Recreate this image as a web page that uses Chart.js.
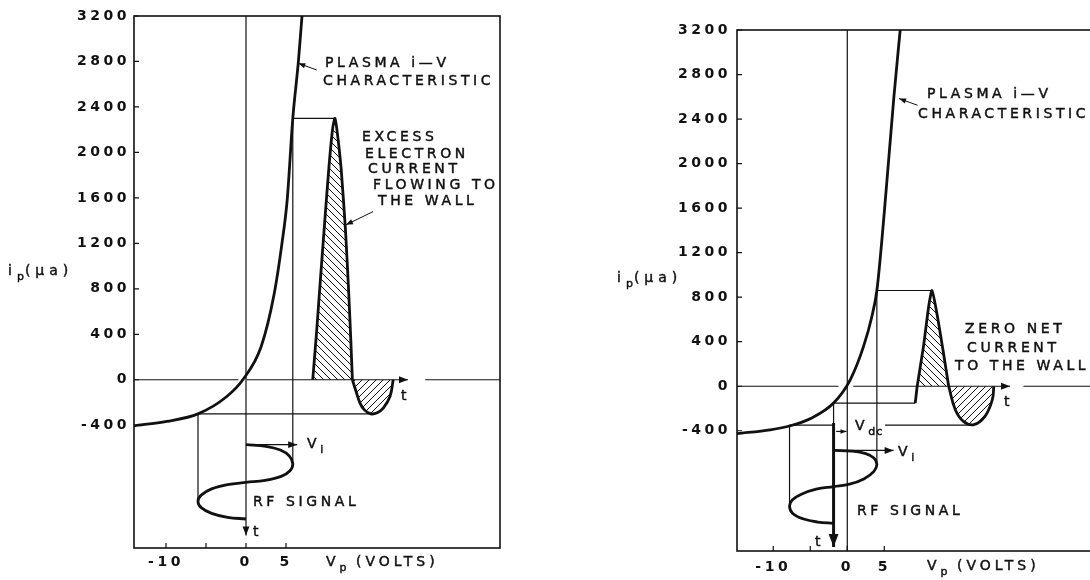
<!DOCTYPE html>
<html><head><meta charset="utf-8">
<script src="https://cdn.jsdelivr.net/npm/chart.js@4.4.1/dist/chart.umd.min.js"></script>
<style>
html,body{margin:0;padding:0;background:#fff;overflow:hidden;width:1090px;height:580px;}
#wrap{position:relative;width:1090px;height:580px;overflow:hidden;background:#fff;}
canvas{position:absolute;top:0;}
.t{position:absolute;font-family:'DejaVu Sans',sans-serif;font-size:14px;line-height:14px;letter-spacing:3.6px;color:#111;white-space:nowrap;-webkit-text-stroke:0.45px #111;}
.t sub{font-size:11px;vertical-align:-5px;line-height:0;letter-spacing:1px;}
.w{letter-spacing:5px;}
</style></head><body><div id="wrap">
<canvas id="c1" width="520" height="580" style="left:0"></canvas>
<canvas id="c2" width="560" height="580" style="left:560px"></canvas>

<div class="t w" style="left:8px;top:263px">i<sub>p</sub>(μa)</div>
<div class="t" style="left:325px;top:55px">PLASMA i—V</div>
<div class="t" style="left:323px;top:73px">CHARACTERISTIC</div>
<div class="t" style="left:362px;top:129px">EXCESS</div>
<div class="t" style="left:365px;top:146px">ELECTRON</div>
<div class="t" style="left:368px;top:161px">CURRENT</div>
<div class="t" style="left:373px;top:177px">FLOWING TO</div>
<div class="t" style="left:378px;top:193px">THE WALL</div>
<div class="t" style="left:307px;top:436px">V<sub>i</sub></div>
<div class="t" style="left:253px;top:494px">RF SIGNAL</div>
<div class="t" style="left:401px;top:388px">t</div>
<div class="t" style="left:253px;top:524px">t</div>
<div class="t" style="left:326px;top:554px;letter-spacing:4px">V<sub>p</sub> (VOLTS)</div>

<div class="t w" style="left:617px;top:270px">i<sub>p</sub>(μa)</div>
<div class="t" style="left:927px;top:86px">PLASMA i—V</div>
<div class="t" style="left:918px;top:106px">CHARACTERISTIC</div>
<div class="t" style="left:965px;top:321px">ZERO NET</div>
<div class="t" style="left:967px;top:340px">CURRENT</div>
<div class="t" style="left:955px;top:358px">TO THE WALL</div>
<div class="t" style="left:855px;top:418px">V<sub>dc</sub></div>
<div class="t" style="left:898px;top:444px">V<sub>i</sub></div>
<div class="t" style="left:857px;top:503px">RF SIGNAL</div>
<div class="t" style="left:1004px;top:394px">t</div>
<div class="t" style="left:815px;top:534px">t</div>
<div class="t" style="left:927px;top:558px;letter-spacing:4px">V<sub>p</sub> (VOLTS)</div>
</div>
<script>
// ---------- axes ----------
const yTickValues = [3200, 2800, 2400, 2000, 1600, 1200, 800, 400, 0, -400];
const yTickLabels = ['3200', '2800', '2400', '2000', '1600', '1200', '800', '400', '0', '-400'];
const xTickValues = [-10, -5, 0, 5];
const xTickLabels = ['-10', '', '0', '5'];

// ---------- left panel data ----------
const L_ivV = [-14, -9.9, -6, -2.4, -0.4, 1.9, 3.5, 4.5, 5.15, 5.85, 6.55, 7.0];
const L_ivI = [-405, -366, -300, -147, 0, 293, 747, 1202, 1583, 2300, 2800, 3200];
const L_rfV = [0, 2.5, 4.3, 5.4, 5.85, 5.5, 4.4, 2.4, 0, -2.3, -4.3, -5.6, -6.0, -5.6, -4.3, -2.3, 0];
const L_rfI = [-571, -585, -618, -670, -740, -800, -850, -885, -903, -922, -960, -1015, -1070, -1125, -1175, -1210, -1225];
const L_posV = [8.34, 8.8, 9.3, 9.85, 10.4, 10.85, 11.12, 11.4, 11.9, 12.45, 12.85, 13.1, 13.3];
const L_posI = [0, 400, 880, 1400, 1900, 2220, 2300, 2180, 1850, 1300, 750, 350, 0];
const L_negV = [13.3, 13.7, 14.25, 14.8, 15.6, 16.4, 17.16, 18.0, 18.4];
const L_negI = [0, -90, -205, -265, -300, -290, -249, -147, 0];

// ---------- right panel data ----------
const R_ivV = [-14.9, -10.4, -7.7, -4.8, -1.85, 0.4, 2.2, 3.3, 4.0, 5.0, 6.3, 7.15];
const R_ivI = [-425, -391, -355, -285, -151, 58, 358, 620, 860, 1560, 2600, 3200];
const R_rfV = [-1.85, 0.6, 2.5, 3.6, 4.0, 3.6, 2.3, 0.3, -1.85, -4.2, -6.2, -7.4, -7.8, -7.4, -6.0, -4.0, -1.85];
const R_rfI = [-577, -583, -605, -645, -700, -765, -830, -880, -902, -925, -970, -1020, -1075, -1140, -1190, -1220, -1231];
const R_posV = [9.19, 9.45, 10.3, 11.0, 11.45, 12.1, 13.0, 13.7];
const R_posI = [-151, 0, 358, 717, 860, 658, 298, 0];
const R_negV = [13.7, 14.6, 15.7, 17.1, 18.6, 19.6, 19.8];
const R_negI = [0, -211, -316, -345, -271, -121, 0];

const INK = '#111';

function hatch(dir) {
  const s = 7, c = document.createElement('canvas');
  c.width = s; c.height = s;
  const g = c.getContext('2d');
  g.strokeStyle = INK; g.lineWidth = 1; g.beginPath();
  for (let k = -1; k <= 1; k++) {
    if (dir > 0) { g.moveTo(k * s - 1, -1); g.lineTo(k * s + s + 1, s + 1); }
    else { g.moveTo(k * s - 1, s + 1); g.lineTo(k * s + s + 1, -1); }
  }
  g.stroke();
  return c.getContext('2d').createPattern(c, 'repeat');
}
const patBack = hatch(1);
const patFwd = hatch(-1);

function ln(xs, ys, w, extra) {
  return Object.assign({
    data: xs.map((x, i) => ({ x: x, y: ys[i] })),
    borderColor: INK, borderWidth: w, pointRadius: 0, pointHoverRadius: 0,
    fill: false, tension: 0
  }, extra || {});
}

const framePlugin = {
  id: 'frame',
  beforeDraw(chart) { chart.ctx.letterSpacing = '3.5px'; },
  afterDatasetsDraw(chart) {
    const ctx = chart.ctx, a = chart.chartArea, x = chart.scales.x, y = chart.scales.y;
    ctx.save();
    ctx.letterSpacing = '0px';
    ctx.strokeStyle = INK; ctx.lineWidth = 1.6;
    ctx.strokeRect(a.left, a.top, a.right - a.left, a.bottom - a.top);
    ctx.lineWidth = 1.2; ctx.beginPath();
    yTickValues.forEach(v => { const py = y.getPixelForValue(v); ctx.moveTo(a.left, py); ctx.lineTo(a.left + 5, py); });
    xTickValues.forEach(v => { const px = x.getPixelForValue(v); ctx.moveTo(px, a.bottom); ctx.lineTo(px, a.bottom - 5); });
    ctx.stroke();
    ctx.fillStyle = INK;
    chart.data.datasets.forEach((ds, i) => {
      if (!ds.arrow) return;
      const d = chart.getDatasetMeta(i).data;
      const p = d[d.length - 1], q = d[d.length - 2];
      const ang = Math.atan2(p.y - q.y, p.x - q.x);
      const L = ds.arrow, W = L * 0.38;
      const c = Math.cos(ang), s = Math.sin(ang);
      ctx.beginPath();
      ctx.moveTo(p.x, p.y);
      ctx.lineTo(p.x - L * c + W * s, p.y - L * s - W * c);
      ctx.lineTo(p.x - L * c - W * s, p.y - L * s + W * c);
      ctx.closePath(); ctx.fill();
    });
    ctx.restore();
  }
};

function makeChart(id, xmin, xmax, yWidth, padTop, padRight, xHeight, yPad, xPad, datasets) {
  const tickFont = { family: 'DejaVu Sans', size: 14, weight: 'bold' };
  return new Chart(document.getElementById(id), {
    type: 'line',
    data: { datasets: datasets },
    options: {
      responsive: false, animation: false, devicePixelRatio: 1,
      events: [],
      layout: { padding: { left: 0, top: padTop, right: padRight, bottom: 0 } },
      plugins: { legend: { display: false }, tooltip: { enabled: false } },
      scales: {
        x: {
          type: 'linear', min: xmin, max: xmax,
          afterBuildTicks: s => { s.ticks = xTickValues.map(v => ({ value: v })); },
          afterFit: s => { s.height = xHeight; },
          grid: { display: false, drawTicks: false }, border: { display: false },
          ticks: { padding: xPad, autoSkip: false, maxRotation: 0, color: INK, font: tickFont,
                   callback: (v, i) => xTickLabels[i] }
        },
        y: {
          type: 'linear', min: -1480, max: 3200,
          afterBuildTicks: s => { s.ticks = yTickValues.map(v => ({ value: v })); },
          afterFit: s => { s.width = yWidth; },
          grid: { display: false, drawTicks: false }, border: { display: false },
          ticks: { padding: yPad, autoSkip: false, color: INK, font: tickFont,
                   callback: (v, i) => yTickLabels[i] }
        }
      }
    },
    plugins: [framePlugin]
  });
}

const thin = 1.2, thick = 2.8;

// ---------- left chart ----------
makeChart('c1', -14, 31.75, 134, 16, 20, 32, 4, 6, [
  ln([-14, -0.95], [0, 0], thin),
  ln([0.1, 20.25], [0, 0], thin, { arrow: 9 }),
  ln([22.4, 31.75], [0, 0], thin),
  ln([0, 0], [3200, -1370], thin, { arrow: 9 }),
  ln([5.85, 11.12], [2300, 2300], thin),
  ln([5.85, 5.85], [2300, -740], thin),
  ln([-6, 15.6], [-300, -300], thin),
  ln([-6, -6], [-300, -1070], thin),
  ln([0, 6.4], [-571, -571], thin, { arrow: 9 }),
  ln(L_posV, L_posI, thick, { tension: 0.2, fill: 'origin', backgroundColor: patBack }),
  ln(L_negV, L_negI, thick, { tension: 0.4, fill: 'origin', backgroundColor: patFwd }),
  ln(L_ivV, L_ivI, thick, { cubicInterpolationMode: 'monotone' }),
  ln(L_rfV, L_rfI, thick, { tension: 0.4 }),
  ln([8.84, 6.54], [2725, 2784], 1, { arrow: 7 }),
  ln([15.9, 12.5], [1480, 1363], 1, { arrow: 7 })
]);

// ---------- right chart ----------
makeChart('c2', -14.9, 34.15, 177, 30, 20, 29, 6, 8, [
  ln([-14.9, -1.2], [0, 0], thin),
  ln([0.8, 22.0], [0, 0], thin, { arrow: 9 }),
  ln([23.8, 34.15], [0, 0], thin),
  ln([0, 0], [3200, -1480], thin),
  ln([4.0, 11.45], [860, 860], thin),
  ln([4.0, 4.0], [860, -700], thin),
  ln([-1.85, 9.19], [-151, -151], thin),
  ln([-7.8, -1.85], [-350, -350], thin),
  ln([5.1, 17.1], [-350, -350], thin),
  ln([-7.8, -7.8], [-350, -1075], thin),
  ln([-1.85, -1.85], [-151, -330], thin),
  ln([-1.85, -1.85], [-330, -1445], 3, { arrow: 13 }),
  ln([-1.85, 6.26], [-577, -577], thin, { arrow: 9 }),
  ln([-1.5, -0.1], [-406, -406], thin, { arrow: 6 }),
  ln(R_posV, R_posI, thick, { tension: 0.2, fill: { target: 'origin', above: patBack, below: 'rgba(0,0,0,0)' } }),
  ln(R_negV, R_negI, thick, { tension: 0.4, fill: 'origin', backgroundColor: patFwd }),
  ln(R_ivV, R_ivI, thick, { cubicInterpolationMode: 'monotone' }),
  ln(R_rfV, R_rfI, thick, { tension: 0.4 }),
  ln([9.5, 7.0], [2524, 2584], 1, { arrow: 7 })
]);
</script>
</body></html>
